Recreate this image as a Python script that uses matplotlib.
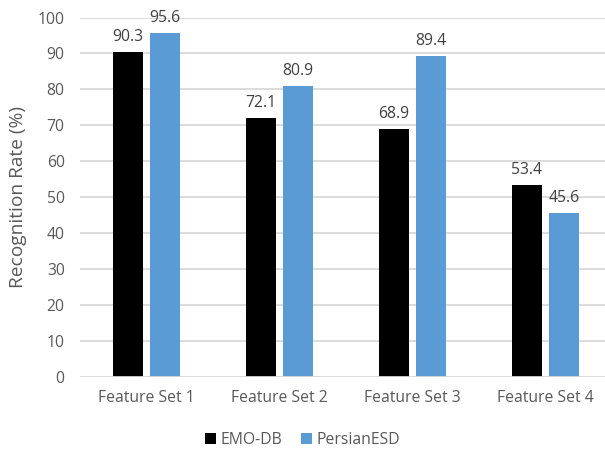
import matplotlib

matplotlib.use("Agg")
import matplotlib.pyplot as plt
import numpy as np

categories = ["Feature Set 1", "Feature Set 2", "Feature Set 3", "Feature Set 4"]
emo_db = [90.3, 72.1, 68.9, 53.4]
persian_esd = [95.6, 80.9, 89.4, 45.6]
yticks = [0, 10, 20, 30, 40, 50, 60, 70, 80, 90, 100]

plt.rcParams["font.family"] = ["Open Sans", "DejaVu Sans"]
text_col = "#595959"

W, H = 605, 449
fig = plt.figure(figsize=(W / 100, H / 100), dpi=100)
ax = fig.add_axes([80 / W, (H - 377) / H, 532 / W, 359.5 / H])

x = np.arange(len(categories))
bw = 0.22
off = 0.14
b1 = ax.bar(x - off, emo_db, bw, color="black", label="EMO-DB", zorder=3)
b2 = ax.bar(x + off, persian_esd, bw, color="#5B9BD5", label="PersianESD", zorder=3)

for bars, vals in ((b1, emo_db), (b2, persian_esd)):
    for r, v in zip(bars, vals):
        ax.annotate(f"{v:.1f}", (r.get_x() + r.get_width() / 2, v), xytext=(0, 5),
                    textcoords="offset points", ha="center", va="bottom",
                    fontsize=11.3, color="#404040", clip_on=False)

ax.set_xlim(-0.5, 3.5)
ax.set_ylim(0, 100)
ax.set_yticks(yticks)
ax.set_xticks(x, categories)
ax.yaxis.grid(True, color="#D9D9D9", lw=1.3, zorder=0)
for s in ax.spines.values():
    s.set_visible(False)
ax.axhline(0, color="#D9D9D9", lw=1.3, zorder=4)
ax.tick_params(length=0, labelsize=11.3, colors=text_col)
ax.tick_params(axis="y", pad=11)
ax.tick_params(axis="x", pad=9)
ax.set_ylabel("Recognition Rate (%)", fontsize=13.8, color=text_col, labelpad=8)

fig.legend(handles=[b1, b2], loc="center", bbox_to_anchor=(0.5, 1 - 440 / H), ncol=2,
           frameon=False, fontsize=11.3, handlelength=0.7, handleheight=0.7,
           handletextpad=0.3, columnspacing=1.2, labelcolor=text_col)

fig.savefig("out.png", dpi=100)
